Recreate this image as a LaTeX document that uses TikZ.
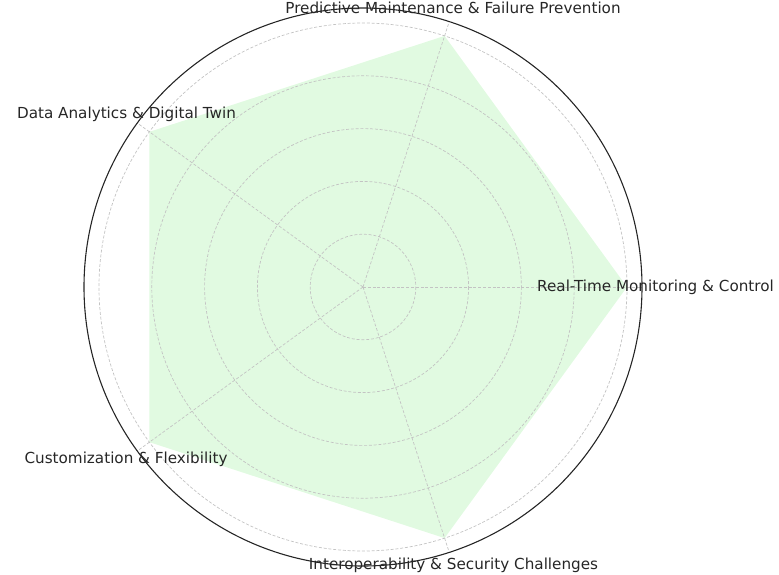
\documentclass[tikz,border=0pt]{standalone}
\usepackage{fontspec}
\setmainfont{DejaVu Sans}
\usetikzlibrary{calc}
\definecolor{fillgreen}{RGB}{144,238,144}
\definecolor{gridgray}{RGB}{195,195,195}
\definecolor{labelcol}{RGB}{38,38,38}
\begin{document}
\begin{tikzpicture}[x=1pt,y=-1pt,
  gridline/.style={draw=gridgray,line width=0.7pt,dash pattern=on 3pt off 1.8pt},
  axislabel/.style={text=labelcol,font=\fontsize{15.2}{17}\selectfont,inner sep=0pt,anchor=center},
  spine/.style={draw=black!85,line width=1.1pt}]
\useasboundingbox (0,0) rectangle (779,575);
\coordinate (c) at (363,287);
% data polygon
\fill[fillgreen,fill opacity=0.27]
  ($(c)+(0:264)$) -- ($(c)+(-72:264)$) -- ($(c)+(-144:264)$) -- ($(c)+(-216:264)$) -- ($(c)+(-288:264)$) -- cycle;
% rings
\foreach \r in {52.8,105.6,158.4,211.2,264}
  \draw[gridline] (c) circle[radius=\r];
% spokes
\foreach \a in {0,72,144,216,288}
  \draw[gridline] (c) -- ($(c)+(-\a:279)$);
% labels
\node[axislabel] (rt) at (655.5,287) {Real-Time Monitoring \& Control};
\node[axislabel] (pm) at (453,8) {Predictive Maintenance \& Failure Prevention};
\node[axislabel] (da) at (126.5,114) {Data Analytics \& Digital Twin};
\node[axislabel] (cf) at (126,459) {Customization \& Flexibility};
\node[axislabel] (is) at (453.5,565) {Interoperability \& Security Challenges};
% outer spine
\draw[spine] (c) circle[radius=279];
\end{tikzpicture}
\end{document}
